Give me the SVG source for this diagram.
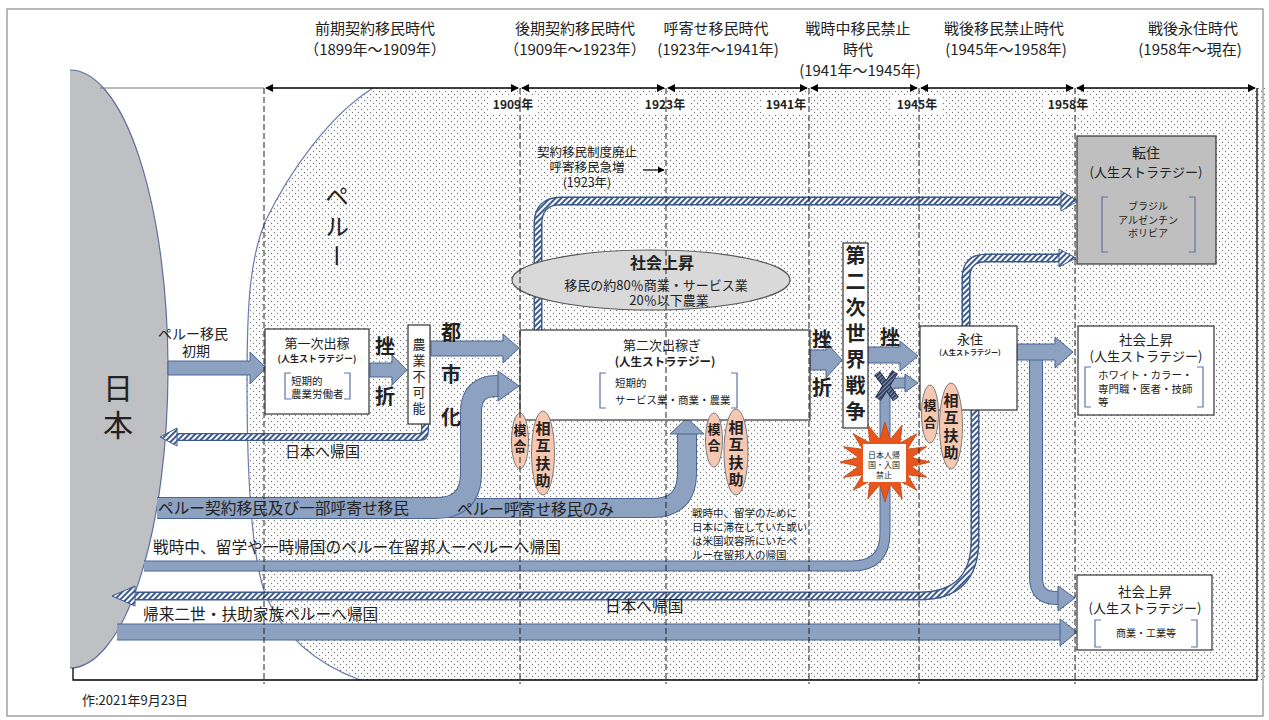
<svg xmlns="http://www.w3.org/2000/svg" width="1269" height="720" viewBox="0 0 1269 720">
<defs>
<pattern id="dots" patternUnits="userSpaceOnUse" width="6" height="6"><circle cx="1.5" cy="1.5" r="0.65" fill="#777"/><circle cx="4.5" cy="4.5" r="0.65" fill="#777"/></pattern>
<pattern id="hatch" patternUnits="userSpaceOnUse" width="4" height="4" patternTransform="rotate(45)"><rect width="4" height="4" fill="#fff"/><rect width="2" height="4" fill="#3d5a8c"/></pattern>
<pattern id="hatchD" patternUnits="userSpaceOnUse" width="3" height="3" patternTransform="rotate(45)"><rect width="3" height="3" fill="#8391b2"/><rect width="1.6" height="3" fill="#24304d"/></pattern>
<marker id="tl" viewBox="0 0 10 10" refX="9" refY="5" markerWidth="8" markerHeight="8" markerUnits="userSpaceOnUse" orient="auto-start-reverse"><path d="M0,0 L10,5 L0,10 Z" fill="#000"/></marker>
<marker id="sa" viewBox="0 0 10 10" refX="9" refY="5" markerWidth="7" markerHeight="7" markerUnits="userSpaceOnUse" orient="auto"><path d="M0,0 L10,5 L0,10 Z" fill="#000"/></marker>
<style>
.jp{font-family:'Noto Sans CJK JP','Noto Sans',sans-serif;fill:#222}
.c{text-anchor:middle}
.b{font-weight:bold}
.v{writing-mode:vertical-rl}
.hdr{font-size:15px}
.yr{font-size:12px;font-weight:bold}
.box{fill:#fff;stroke:#333;stroke-width:1.2}
.gbox{fill:#bfbfbf;stroke:#333;stroke-width:1.2}
.brk{fill:none;stroke:#5d72a6;stroke-width:1.2}
.ol{fill:none;stroke:#4a6596}
.fl{fill:none;stroke:#8da1c1}
.head{fill:#8da1c1;stroke:#4a6596;stroke-width:1}
.hol{fill:none;stroke:#3d5a8c}
.hfl{fill:none;stroke:url(#hatch)}
.hhead{fill:url(#hatch);stroke:#3d5a8c;stroke-width:1}
.dash{stroke:#222;stroke-width:1;stroke-dasharray:6 3;fill:none}
.ell{fill:#f6c8b2;stroke:#7b7b7b;stroke-width:1}
.tl{stroke:#000;stroke-width:1.5;fill:none;marker-start:url(#tl);marker-end:url(#tl)}
.band{font-size:15.7px}
</style>
</defs>
<rect x="0" y="0" width="1269" height="720" fill="#fff"/>
<rect x="7" y="9" width="1256" height="707" fill="none" stroke="#8a8a8a" stroke-width="1.2"/>

<g id="peru">
<path d="M373,88 C330,115 290,170 265,222 C250,260 247,300 247,384 C247,480 252,560 266,596 C285,640 320,665 360,680 L1265,680 L1265,88 Z" fill="url(#dots)"/>
<path d="M373,88 C330,115 290,170 265,222 C250,260 247,300 247,384 C247,480 252,560 266,596 C285,640 320,665 360,680" fill="none" stroke="#6a7bab" stroke-width="1.2"/>
<text class="jp v" x="337" y="184" font-size="24" letter-spacing="6">ペルー</text>
</g>

<g id="japan">
<path d="M70,70 A98,299 0 0 1 70,668 Z" fill="#bfc0c3"/>
<path d="M70,70 A98,299 0 0 1 70,668" fill="none" stroke="#5f6f9f" stroke-width="1.2"/>
<text class="jp v" x="118" y="373" font-size="30" letter-spacing="7">日本</text>
</g>

<g id="frame">
<path d="M100,88 H264" stroke="#777" stroke-width="1.2"/>
<path d="M73,668 V680 H1257 V88" fill="none" stroke="#000" stroke-width="1.3"/>
</g>

<g id="timeline">
<path class="tl" d="M266,88 H518"/>
<path class="tl" d="M522,88 H664"/>
<path class="tl" d="M668,88 H807"/>
<path class="tl" d="M811,88 H917"/>
<path class="tl" d="M921,88 H1073"/>
<path class="tl" d="M1077,88 H1255"/>
<g fill="#fff">
<rect x="488" y="95" width="50" height="19"/>
<rect x="640" y="95" width="50" height="19"/>
<rect x="761" y="95" width="50" height="19"/>
<rect x="892" y="95" width="50" height="19"/>
<rect x="1043" y="95" width="50" height="19"/>
</g>
<text class="jp c yr" x="513" y="109">1909年</text>
<text class="jp c yr" x="665" y="109">1923年</text>
<text class="jp c yr" x="786" y="109">1941年</text>
<text class="jp c yr" x="917" y="109">1945年</text>
<text class="jp c yr" x="1068" y="109">1958年</text>
</g>

<g id="headers">
<text class="jp c hdr" x="375" y="34">前期契約移民時代</text>
<text class="jp c hdr" x="375" y="55">（1899年～1909年）</text>
<text class="jp c hdr" x="575" y="34">後期契約移民時代</text>
<text class="jp c hdr" x="575" y="55">（1909年～1923年）</text>
<text class="jp c hdr" x="716" y="34">呼寄せ移民時代</text>
<text class="jp c hdr" x="718" y="55">(1923年～1941年)</text>
<text class="jp c hdr" x="858" y="34">戦時中移民禁止</text>
<text class="jp c hdr" x="858" y="55">時代</text>
<text class="jp c hdr" x="860" y="76">(1941年～1945年)</text>
<text class="jp c hdr" x="1004" y="34">戦後移民禁止時代</text>
<text class="jp c hdr" x="1006" y="55">(1945年～1958年)</text>
<text class="jp c hdr" x="1193" y="34">戦後永住時代</text>
<text class="jp c hdr" x="1190" y="55">(1958年～現在)</text>
</g>

<g id="connectors">
<path class="hol" stroke-width="9" d="M538,330 V224 Q538,201 561,201 H1062"/>
<path class="hfl" stroke-width="6" d="M538,330 V224 Q538,201 561,201 H1062"/>
<polygon class="hhead" points="1061,191 1078,201 1061,211"/>
<path class="hol" stroke-width="9" d="M966,326 V278 Q966,258 986,258 H1060"/>
<path class="hfl" stroke-width="6" d="M966,326 V278 Q966,258 986,258 H1060"/>
<polygon class="hhead" points="1059,249 1076,258 1059,267"/>
<path class="hol" stroke-width="9" d="M975,410 V540 Q975,596 919,596 H134"/>
<path class="hfl" stroke-width="6" d="M975,410 V540 Q975,596 919,596 H134"/>
<polygon class="hhead" points="135,586 112,596 135,606"/>
<path class="hol" stroke-width="8" d="M425,424 V431 Q425,437 419,437 H176"/>
<path class="hfl" stroke-width="5.5" d="M425,424 V431 Q425,437 419,437 H176"/>
<polygon class="hhead" points="177,428 160,437 177,446"/>

<polygon class="head" points="168,361 250,361 250,352 266,368 250,384 250,375 168,375"/>
<polygon class="head" points="370,363 392,363 392,355 407,370 392,385 392,377 370,377"/>
<polygon class="head" points="431,341 503,341 503,334 519,348 503,363 503,356 431,356"/>
<polygon class="head" points="810,350 826,350 826,342 842,360 826,378 826,370 810,370"/>
<polygon class="head" points="868,347 900,347 900,341 918,356 900,371 900,363 868,363"/>

<path class="ol" stroke-width="20" d="M440,508 H652 Q687,508 687,473 V434"/>
<path class="fl" stroke-width="18" d="M440,508 H652 Q687,508 687,473 V434"/>
<polygon class="head" points="670,434 687,418 704,434"/>
<path class="ol" stroke-width="22" d="M157,508 H436 Q471,508 471,473 V412 Q471,386 497,386 H499"/>
<path class="fl" stroke-width="20" d="M157,508 H436 Q471,508 471,473 V412 Q471,386 497,386 H499"/>
<polygon class="head" points="498,371 519,386 498,401"/>

<path class="ol" stroke-width="11" d="M144,566 H852 Q885,566 885,533 V396 Q885,383 898,383 H906"/>
<path class="fl" stroke-width="9" d="M144,566 H852 Q885,566 885,533 V396 Q885,383 898,383 H906"/>
<polygon class="head" points="905,374 918,383 905,392"/>
<path d="M877,373 L896,399 M895,372 L878,399" stroke="#24304d" stroke-width="7" fill="none"/>
<path d="M877,373 L896,399 M895,372 L878,399" stroke="url(#hatchD)" stroke-width="5" fill="none"/>

<path class="ol" stroke-width="17" d="M117,632 H1061"/>
<path class="fl" stroke-width="15" d="M117,632 H1061"/>
<polygon class="head" points="1060,619 1077,632 1060,646"/>

<path class="ol" stroke-width="14" d="M1036,358 V578 Q1036,598 1056,598 H1059"/>
<path class="fl" stroke-width="12" d="M1036,358 V578 Q1036,598 1056,598 H1059"/>
<polygon class="head" points="1058,586 1075,598 1058,611"/>
<polygon class="head" points="1017,344 1055,344 1055,337 1073,352 1055,368 1055,360 1017,360"/>

<path d="M643,170 H664" stroke="#000" stroke-width="1.2" marker-end="url(#sa)"/>
</g>

<g id="labels">
<text class="jp c" font-size="14"><tspan x="193" y="339">ペルー移民</tspan><tspan x="196" y="356">初期</tspan></text>
<text class="jp" x="285" y="457" font-size="15">日本へ帰国</text>
<text class="jp band" x="158" y="514">ペルー契約移民及び一部呼寄せ移民</text>
<text class="jp band" x="457" y="515">ペルー呼寄せ移民のみ</text>
<text class="jp band" x="153" y="553">戦時中、留学や一時帰国のペルー在留邦人ーペルーへ帰国</text>
<text class="jp band" x="605" y="612">日本へ帰国</text>
<text class="jp band" x="143" y="620">帰来二世・扶助家族ペルーへ帰国</text>
<text class="jp" font-size="10.5"><tspan x="692" y="517">戦時中、留学のために</tspan><tspan x="692" y="531">日本に滞在していた或い</tspan><tspan x="692" y="545">は米国収容所にいたペ</tspan><tspan x="692" y="559">ルー在留邦人の帰国</tspan></text>
<text class="jp c" font-size="12.5"><tspan x="587" y="157">契約移民制度廃止</tspan><tspan x="587" y="172">呼寄移民急増</tspan><tspan x="587" y="187">(1923年)</tspan></text>
<g class="b" font-size="20">
<text class="jp c" x="385" y="354">挫</text>
<text class="jp c" x="385" y="404">折</text>
<text class="jp v" x="451" y="322" letter-spacing="22.5">都市化</text>
<text class="jp c" x="822" y="347">挫</text>
<text class="jp c" x="822" y="395">折</text>
<text class="jp c" x="890" y="345">挫</text>
</g>
<text class="jp" x="82" y="705" font-size="13">作:2021年9月23日</text>
</g>

<g id="node-daiichi">
<rect class="box" x="265" y="329" width="104" height="85"/>
<text class="jp c" x="317" y="348" font-size="13">第一次出稼</text>
<text class="jp c b" x="317" y="362" font-size="9">(人生ストラテジー)</text>
<path class="brk" d="M291,373 H285 V399 H291 M344,373 H350 V399 H344"/>
<text class="jp" font-size="10.5"><tspan x="291" y="385">短期的</tspan><tspan x="291" y="398">農業労働者</tspan></text>
</g>

<g id="node-nogyo">
<rect class="box" x="408" y="325" width="22" height="99"/>
<text class="jp v" x="419" y="337.5" font-size="13" letter-spacing="3">農業不可能</text>
</g>

<g id="node-shakai-ellipse">
<ellipse cx="651" cy="280" rx="139" ry="30" fill="#d9d9d9" stroke="#555" stroke-width="1.2"/>
<text class="jp c b" x="662" y="269" font-size="16">社会上昇</text>
<text class="jp c" font-size="13"><tspan x="656" y="290">移民の約80％商業・サービス業</tspan><tspan x="669" y="305">20％以下農業</tspan></text>
</g>

<g id="node-dainiji">
<rect class="box" x="520" y="330" width="290" height="90"/>
<text class="jp c" x="662" y="350" font-size="13">第二次出稼ぎ</text>
<text class="jp c b" x="665" y="366" font-size="11.5">(人生ストラテジー)</text>
<path class="brk" d="M606,373 H600 V408 H606 M731,373 H737 V408 H731"/>
<text class="jp" font-size="10.5"><tspan x="615" y="387">短期的</tspan><tspan x="615" y="404">サービス業・商業・農業</tspan></text>
</g>

<g id="node-moai-1">
<ellipse class="ell" cx="520" cy="441" rx="8.5" ry="28"/>
<ellipse class="ell" cx="543" cy="453" rx="11.5" ry="42"/>
<text class="jp v b" x="520" y="423.5" font-size="13" letter-spacing="3">模合</text>
<text class="jp v b" x="543" y="420.5" font-size="15" letter-spacing="2.5">相互扶助</text>
</g>

<g id="node-moai-2">
<ellipse class="ell" cx="714" cy="440" rx="8.5" ry="27"/>
<ellipse class="ell" cx="736" cy="452" rx="12" ry="43"/>
<text class="jp v b" x="714" y="422.5" font-size="13" letter-spacing="3">模合</text>
<text class="jp v b" x="736" y="419.5" font-size="15" letter-spacing="2.5">相互扶助</text>
</g>

<g id="node-war">
<rect class="box" x="843" y="243" width="25" height="185"/>
<text class="jp v b" x="855.5" y="245" font-size="20" letter-spacing="6">第二次世界戦争</text>
</g>

<g id="node-ban">
<polygon points="930,462 911.5,466.5 926.6,477.3 907.4,474.8 916.8,490.3 900,481.1 902.2,499 890.3,484.6 885,502 879.7,484.6 867.8,499 870,481.1 853.2,490.3 862.6,474.8 843.4,477.3 858.5,466.5 840,462 858.5,457.5 843.4,446.7 862.6,449.2 853.2,433.7 870,442.9 867.8,425 879.7,439.4 885,422 890.3,439.4 902.2,425 900,442.9 916.8,433.7 907.4,449.2 926.6,446.7 911.5,457.5" fill="#e8561e" stroke="#c24512" stroke-width="0.8"/>
<rect x="863" y="444" width="43" height="38" fill="#fff"/>
<text class="jp c" font-size="8"><tspan x="884" y="458">日本人帰</tspan><tspan x="884" y="468">国・入国</tspan><tspan x="884" y="478">禁止</tspan></text>
</g>

<g id="node-eiju">
<rect class="box" x="920" y="326" width="97" height="84"/>
<text class="jp c" x="970" y="344" font-size="13">永住</text>
<text class="jp c b" x="970" y="355" font-size="7">(人生ストラテジー)</text>
</g>

<g id="node-moai-3">
<ellipse class="ell" cx="930" cy="414" rx="8.5" ry="29"/>
<ellipse class="ell" cx="951" cy="426" rx="11.5" ry="43"/>
<text class="jp v b" x="930" y="398.5" font-size="13" letter-spacing="4">模合</text>
<text class="jp v b" x="951" y="392.5" font-size="15" letter-spacing="2.5">相互扶助</text>
</g>

<g id="node-tenju">
<rect class="gbox" x="1077" y="136" width="139" height="128"/>
<text class="jp c" x="1146" y="158" font-size="14">転住</text>
<text class="jp c" x="1146" y="177" font-size="13">(人生ストラテジー)</text>
<path class="brk" d="M1108,197 H1102 V252 H1108 M1189,197 H1195 V252 H1189"/>
<text class="jp c" font-size="10"><tspan x="1148" y="210">ブラジル</tspan><tspan x="1148" y="224">アルゼンチン</tspan><tspan x="1148" y="237">ボリビア</tspan></text>
</g>

<g id="node-shakai-2">
<rect class="box" x="1078" y="326" width="136" height="89"/>
<text class="jp c" x="1146" y="345" font-size="13.5">社会上昇</text>
<text class="jp c" x="1146" y="361" font-size="13">(人生ストラテジー)</text>
<path class="brk" d="M1091,367 H1085 V407 H1091 M1197,367 H1203 V407 H1197"/>
<text class="jp" font-size="10.5"><tspan x="1098" y="379">ホワイト・カラー・</tspan><tspan x="1098" y="393">専門職・医者・技師</tspan><tspan x="1098" y="406">等</tspan></text>
</g>

<g id="node-shakai-3">
<rect class="box" x="1077" y="575" width="135" height="75"/>
<text class="jp c" x="1145" y="597" font-size="13.5">社会上昇</text>
<text class="jp c" x="1145" y="613" font-size="13">(人生ストラテジー)</text>
<path class="brk" d="M1101,620 H1095 V647 H1101 M1191,620 H1197 V647 H1191"/>
<text class="jp c" x="1146" y="637" font-size="10">商業・工業等</text>
</g>

<g id="gridlines">
<path class="dash" d="M264,88 V684"/>
<path class="dash" d="M520,88 V684"/>
<path class="dash" d="M666,88 V684"/>
<path class="dash" d="M809,88 V684"/>
<path class="dash" d="M919,88 V684"/>
<path class="dash" d="M1075,88 V684"/>
</g>
</svg>
